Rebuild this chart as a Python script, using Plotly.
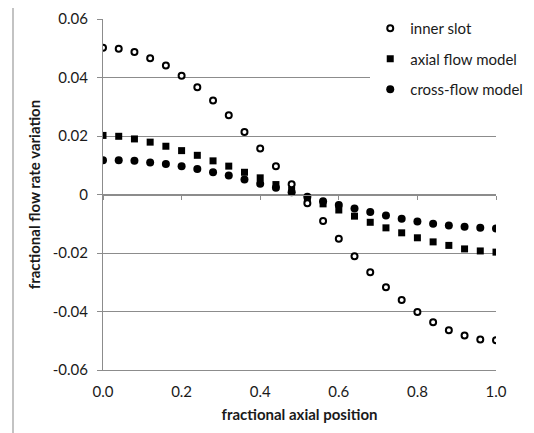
import plotly.graph_objects as go

x_pos = [0.00, 0.04, 0.08, 0.12, 0.16, 0.20, 0.24, 0.28, 0.32, 0.36, 0.40, 0.44, 0.48,
         0.52, 0.56, 0.60, 0.64, 0.68, 0.72, 0.76, 0.80, 0.84, 0.88, 0.92, 0.96, 1.00]

inner_slot = [0.0502, 0.0498, 0.0487, 0.0466, 0.0441, 0.0406, 0.0367, 0.0321, 0.0271, 0.0214,
              0.0157, 0.0097, 0.0035, -0.0030, -0.0091, -0.0151, -0.0211, -0.0266, -0.0317,
              -0.0361, -0.0402, -0.0437, -0.0464, -0.0482, -0.0496, -0.0498]

axial_flow = [0.0202, 0.0199, 0.0190, 0.0179, 0.0165, 0.0150, 0.0134, 0.0115, 0.0097, 0.0076,
              0.0057, 0.0034, 0.0015, -0.0015, -0.0032, -0.0053, -0.0074, -0.0095, -0.0114,
              -0.0131, -0.0148, -0.0162, -0.0174, -0.0186, -0.0193, -0.0197]

cross_flow = [0.0117, 0.0117, 0.0115, 0.0109, 0.0104, 0.0097, 0.0087, 0.0076, 0.0065, 0.0051,
              0.0037, 0.0023, 0.0008, -0.0008, -0.0023, -0.0036, -0.0048, -0.0060, -0.0072,
              -0.0083, -0.0092, -0.0100, -0.0106, -0.0110, -0.0114, -0.0116]

x_ticks = [0.0, 0.2, 0.4, 0.6, 0.8, 1.0]
x_tick_labels = ["0.0", "0.2", "0.4", "0.6", "0.8", "1.0"]
y_ticks = [0.06, 0.04, 0.02, 0.0, -0.02, -0.04, -0.06]
y_tick_labels = ["0.06", "0.04", "0.02", "0", "-0.02", "-0.04", "-0.06"]

FONT = "Lato"
GRID = "#8c8c8c"
TXT = "#1a1a1a"

fig = go.Figure()

fig.add_trace(go.Scatter(
    x=x_pos, y=cross_flow, mode="markers", name="cross-flow model",
    legendrank=3, legendgroup="c",
    marker=dict(symbol="circle", size=8, color="black", line=dict(width=0))))
fig.add_trace(go.Scatter(
    x=x_pos, y=axial_flow, mode="markers", name="axial flow model",
    legendrank=2, legendgroup="b",
    marker=dict(symbol="square", size=7, color="black", line=dict(width=0))))
fig.add_trace(go.Scatter(
    x=x_pos, y=inner_slot, mode="markers", name="inner slot",
    legendrank=1, legendgroup="a",
    marker=dict(symbol="circle", size=6, color="white", line=dict(width=2, color="black"))))
# helper trace for the zero-crossing axis
fig.add_trace(go.Scatter(x=[], y=[], xaxis="x2", showlegend=False, hoverinfo="skip"))

fig.update_layout(
    width=526, height=425,
    margin=dict(l=95, r=38, t=11, b=63, pad=0, autoexpand=False),
    paper_bgcolor="white", plot_bgcolor="white",
    font=dict(family=FONT, size=15, color=TXT),
    showlegend=True,
    legend=dict(
        x=0.68, y=1.02, xanchor="left", yanchor="top",
        bgcolor="white", borderwidth=0,
        traceorder="grouped", tracegroupgap=8,
        font=dict(family=FONT, size=15, color=TXT),
    ),
    xaxis=dict(
        range=[0, 1], tickvals=x_ticks, ticktext=x_tick_labels,
        showgrid=False, zeroline=False, showline=True, linecolor=GRID, linewidth=1,
        ticks="", ticklabelstandoff=8,
        title=dict(text="<b>fractional axial position</b>", standoff=10,
                   font=dict(family=FONT, size=15, color=TXT)),
    ),
    xaxis2=dict(
        range=[0, 1], overlaying="x", anchor="free", position=0.5,
        tickvals=x_ticks, showticklabels=False, ticks="outside", ticklen=4,
        tickcolor=GRID, showgrid=False, zeroline=False, showline=True,
        linecolor=GRID, linewidth=1,
    ),
    yaxis=dict(
        range=[-0.06, 0.06], tickvals=y_ticks, ticktext=y_tick_labels,
        showgrid=True, gridcolor=GRID, gridwidth=1, zeroline=False,
        showline=True, linecolor=GRID, linewidth=1,
        ticks="outside", ticklen=5, tickcolor=GRID,
        ticklabelstandoff=6,
        title=dict(text="<b>fractional flow rate variation</b>", standoff=8,
                   font=dict(family=FONT, size=15, color=TXT)),
    ),
    shapes=[
        dict(type="line", xref="paper", yref="paper", x0=-0.229, x1=1.3,
             y0=1.0456, y1=1.0456, line=dict(color="#878787", width=1)),
        dict(type="line", xref="paper", yref="paper", x0=-0.229, x1=-0.229,
             y0=-0.3, y1=1.0456, line=dict(color="#878787", width=1)),
    ],
)

fig.write_html("out.html")
